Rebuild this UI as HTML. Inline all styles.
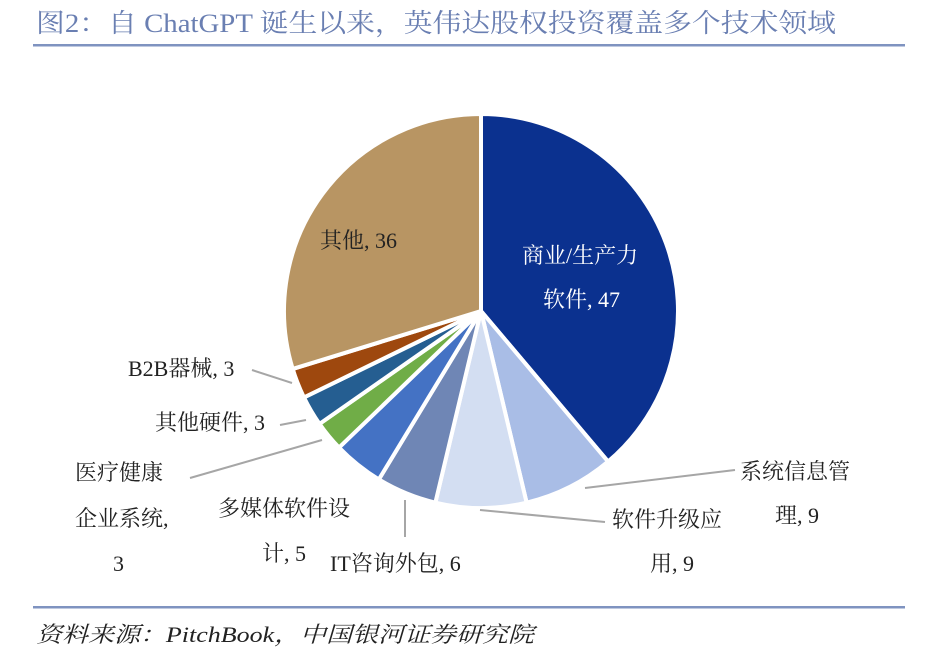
<!DOCTYPE html>
<html><head><meta charset="utf-8"><style>
body{margin:0;background:#fff;width:941px;height:648px;overflow:hidden;}
svg{display:block;font-family:"Liberation Serif","Noto Serif CJK SC",serif;}
</style></head><body>
<svg width="941" height="648" viewBox="0 0 941 648">
<text x="36" y="32" font-size="26" fill="#6a7fb2" textLength="800" lengthAdjust="spacingAndGlyphs">图2：自 ChatGPT 诞生以来，英伟达股权投资覆盖多个技术领域</text>
<rect x="33" y="44" width="872" height="2.5" fill="#7f93c0"/>
<rect x="33" y="606" width="872" height="2.5" fill="#7f93c0"/>
<text x="36" y="642" font-size="22" font-style="italic" fill="#222" textLength="498" lengthAdjust="spacingAndGlyphs">资料来源：PitchBook，中国银河证券研究院</text>
<g id="pie" stroke="#fff" stroke-width="4"></g>
<g stroke="#a6a6a6" stroke-width="2" fill="none">
<polyline points="585,488 735,470"/>
<polyline points="480,510 605,522"/>
<polyline points="405,500 405,537"/>
<polyline points="322,440 190,478"/>
<polyline points="306,420 280,425"/>
<polyline points="292,383 252,370"/>
</g>
<g font-size="22" fill="#222">
<text x="522" y="263" fill="#fff">商业/生产力</text>
<text x="543" y="307" fill="#fff">软件, 47</text>
<text x="320" y="248">其他, 36</text>
<text x="740" y="479">系统信息管</text>
<text x="775" y="523">理, 9</text>
<text x="612" y="527">软件升级应</text>
<text x="650" y="571">用, 9</text>
<text x="330" y="571">IT咨询外包, 6</text>
<text x="218" y="516">多媒体软件设</text>
<text x="262" y="561">计, 5</text>
<text x="75" y="480">医疗健康</text>
<text x="75" y="526">企业系统,</text>
<text x="113" y="571">3</text>
<text x="155" y="430">其他硬件, 3</text>
<text x="128" y="376">B2B器械, 3</text>
</g>
</svg>
<script>
var vals=[47,9,9,6,5,3,3,3,36],cols=["#0b318f","#a9bde6","#d3def2","#6f86b5","#4472c4","#70ad47","#255e91","#9e480e","#b89563"];
var cx=481,cy=311,r=197,t=121,a=0,g=document.getElementById("pie"),s="";
vals.forEach(function(v,i){var b=a+v/t*2*Math.PI;
var x1=cx+r*Math.sin(a),y1=cy-r*Math.cos(a),x2=cx+r*Math.sin(b),y2=cy-r*Math.cos(b);
s+='<path fill="'+cols[i]+'" d="M'+cx+','+cy+'L'+x1+','+y1+'A'+r+','+r+' 0 '+((b-a)>Math.PI?1:0)+' 1 '+x2+','+y2+'Z"/>';a=b;});
g.innerHTML=s;
</script>
</body></html>
